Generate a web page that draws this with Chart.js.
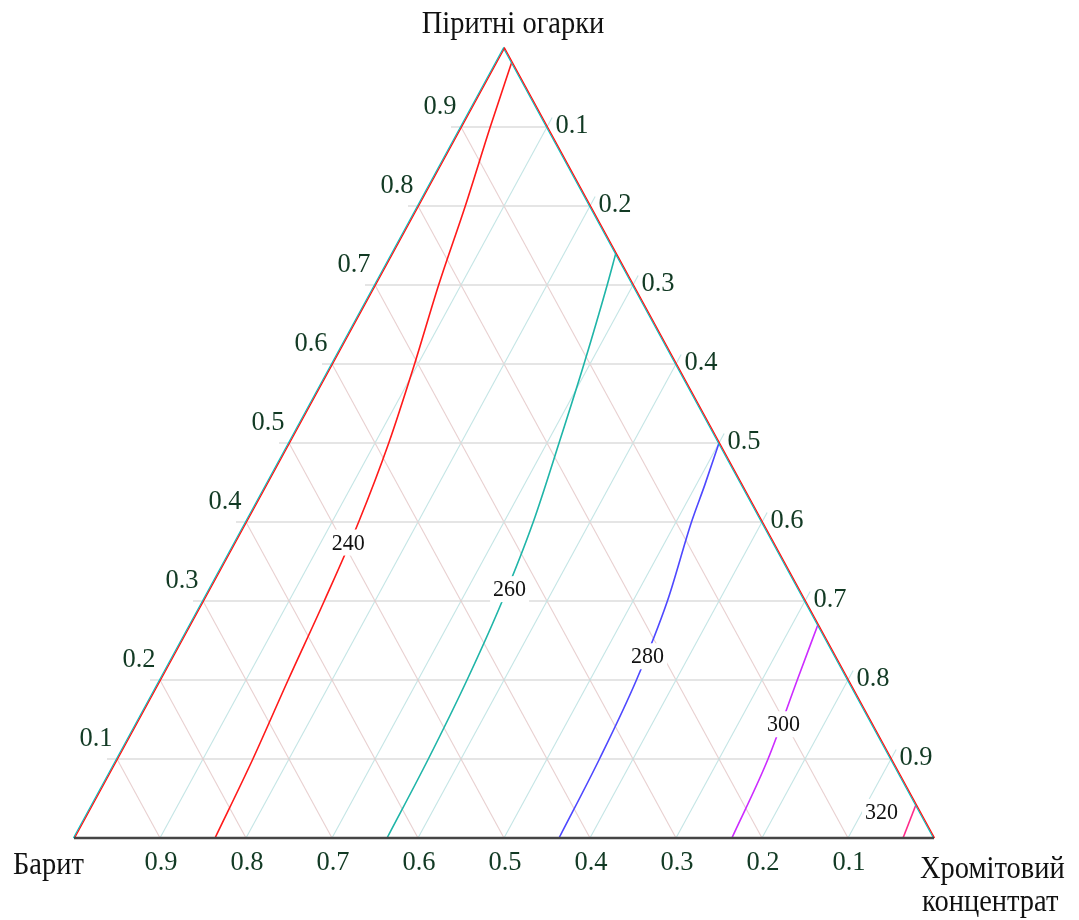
<!DOCTYPE html>
<html><head><meta charset="utf-8">
<script src="https://cdn.jsdelivr.net/npm/chart.js@4.4.0/dist/chart.umd.min.js"></script>
<style>html,body{margin:0;padding:0;background:#fff}canvas{display:block}</style>
</head><body>
<canvas id="c" width="1079" height="920"></canvas>
<script>
// Component names (vertices)
const topName = 'Піритні огарки';
const leftName = 'Барит';
const rightName = ['Хромітовий', 'концентрат'];
// Tick values / labels (same on all three axes)
const tickValues = [0.1, 0.2, 0.3, 0.4, 0.5, 0.6, 0.7, 0.8, 0.9];
const tickLabels = ['0.1', '0.2', '0.3', '0.4', '0.5', '0.6', '0.7', '0.8', '0.9'];
// Contour levels
const levels = [240, 260, 280, 300, 320];
// Contour lines: P = Піритні огарки fraction, C = Хромітовий концентрат fraction
const c240P = [0.982, 0.9, 0.8, 0.7, 0.6, 0.5, 0.4, 0.3, 0.2, 0.1, 0.0];
const c240C = [0.018, 0.034, 0.055, 0.074, 0.096, 0.116, 0.131, 0.141, 0.149, 0.158, 0.164];
const c260P = [0.74, 0.7, 0.6, 0.5, 0.4, 0.3, 0.2, 0.1, 0.0];
const c260C = [0.26, 0.27, 0.293, 0.314, 0.334, 0.348, 0.357, 0.362, 0.364];
const c280P = [0.5, 0.447, 0.4, 0.3, 0.2, 0.1, 0.0];
const c280C = [0.5, 0.51, 0.518, 0.54, 0.554, 0.561, 0.564];
const c300P = [0.27, 0.2, 0.1, 0.0];
const c300C = [0.73, 0.741, 0.757, 0.765];
const c320P = [0.042, 0.0];
const c320C = [0.958, 0.964];
// Contour label anchor positions (P, C)
const labelP = [0.374, 0.315, 0.23, 0.144, 0.033];
const labelC = [0.132, 0.349, 0.552, 0.753, 0.9225];

const contourP = [c240P, c260P, c280P, c300P, c320P];
const contourC = [c240C, c260C, c280C, c300C, c320C];
const contourColors = ['#ff1a1a', '#1fb5a8', '#4e48ff', '#cc2cff', '#ff2a8a'];

const tern = (P, C) => ({ x: C + P / 2, y: P });

const datasets = levels.map((lv, i) => ({
  label: String(lv),
  data: contourP[i].map((p, k) => tern(p, contourC[i][k])).reverse(),
  showLine: true,
  borderColor: contourColors[i],
  borderWidth: 1.6,
  pointRadius: 0,
  cubicInterpolationMode: 'monotone',
  fill: false,
  clip: false
}));

const SERIF = '"Liberation Serif", "Times New Roman", serif';
const VS = 1.07; // vertical text stretch

function text(ctx, s, x, y, size, color, align, base) {
  ctx.save();
  ctx.font = size + 'px ' + SERIF;
  ctx.fillStyle = color;
  ctx.textAlign = align || 'center';
  ctx.textBaseline = base || 'middle';
  ctx.translate(x, y);
  ctx.scale(1, VS);
  ctx.fillText(s, 0, 0);
  ctx.restore();
}

const ternPlugin = {
  id: 'tern',
  beforeDatasetsDraw(chart) {
    const ctx = chart.ctx, xs = chart.scales.x, ys = chart.scales.y;
    const px = (P, C) => { const t = tern(P, C); return [xs.getPixelForValue(t.x), ys.getPixelForValue(t.y)]; };
    const line = (a, b, col, w) => {
      ctx.beginPath(); ctx.moveTo(a[0], a[1]); ctx.lineTo(b[0], b[1]);
      ctx.strokeStyle = col; ctx.lineWidth = w; ctx.stroke();
    };
    ctx.save();
    const ext = 0.012;
    tickValues.forEach(v => {
      // constant B lines (parallel to right edge): from left edge to bottom
      line(px(1 - v, 0), px(0, 1 - v), 'rgba(228,200,200,0.85)', 1.1);
      // constant C lines (parallel to left edge): from right edge (slightly beyond) to bottom
      line(px(1 - v + ext, v), px(0, v), 'rgba(190,226,226,0.9)', 1.1);
      // constant P lines (horizontal), small extension to the left
      const a = px(v, 0), b = px(v, 1 - v);
      line([a[0] - 10, a[1]], b, '#dcdcdc', 1.4);
    });
    ctx.restore();
  },
  afterDatasetsDraw(chart) {
    const ctx = chart.ctx, xs = chart.scales.x, ys = chart.scales.y;
    const px = (P, C) => { const t = tern(P, C); return [xs.getPixelForValue(t.x), ys.getPixelForValue(t.y)]; };
    const T = px(1, 0), L = px(0, 0), R = px(0, 1);
    ctx.save();
    // side edges with colour fringes
    [['#00c4c4', -0.6], ['#ff1010', 0.6]].forEach(([col, dx]) => {
      ctx.beginPath();
      ctx.moveTo(L[0] + dx, L[1]); ctx.lineTo(T[0] + dx, T[1]); ctx.lineTo(R[0] + dx, R[1]);
      ctx.strokeStyle = col; ctx.lineWidth = 1.2; ctx.lineJoin = 'miter'; ctx.stroke();
    });
    // bottom edge
    ctx.beginPath(); ctx.moveTo(L[0], L[1]); ctx.lineTo(R[0], R[1]);
    ctx.strokeStyle = '#454545'; ctx.lineWidth = 2.6; ctx.stroke();

    // contour labels
    levels.forEach((lv, i) => {
      const p = px(labelP[i], labelC[i]);
      ctx.font = '22px ' + SERIF;
      const w = ctx.measureText(String(lv)).width;
      ctx.fillStyle = '#ffffff';
      ctx.fillRect(p[0] - w / 2 - 3, p[1] - 13, w + 6, 26);
      text(ctx, String(lv), p[0], p[1] + 1, 22, '#111111');
    });

    // tick labels
    const tc = '#123a24';
    tickValues.forEach((v, i) => {
      const a = px(v, 0);           // left axis (P)
      text(ctx, tickLabels[i], a[0] - 21, a[1] - 20, 26.5, tc);
      const b = px(1 - v, v);       // right axis (C)
      text(ctx, tickLabels[i], b[0] + 25, b[1] - 1, 26.5, tc);
      const c = px(0, 1 - v);       // bottom axis (B)
      text(ctx, tickLabels[i], c[0] + 1, c[1] + 25, 26.5, tc);
    });

    // vertex names
    text(ctx, topName, T[0] + 9, 33, 28.5, '#111111', 'center', 'alphabetic');
    text(ctx, leftName, 13, 874, 28.5, '#111111', 'left', 'alphabetic');
    text(ctx, rightName[0], 920, 878, 28.5, '#111111', 'left', 'alphabetic');
    text(ctx, rightName[1], 922, 911, 28.5, '#111111', 'left', 'alphabetic');
    ctx.restore();
  }
};

new Chart(document.getElementById('c'), {
  type: 'scatter',
  data: { datasets },
  options: {
    responsive: false,
    animation: false,
    layout: { padding: { left: 74, right: 145, top: 48, bottom: 82 } },
    plugins: { legend: { display: false }, tooltip: { enabled: false }, title: { display: false } },
    scales: {
      x: { type: 'linear', min: 0, max: 1, display: false },
      y: { type: 'linear', min: 0, max: 1, display: false }
    }
  },
  plugins: [ternPlugin]
});
</script>
</body></html>
